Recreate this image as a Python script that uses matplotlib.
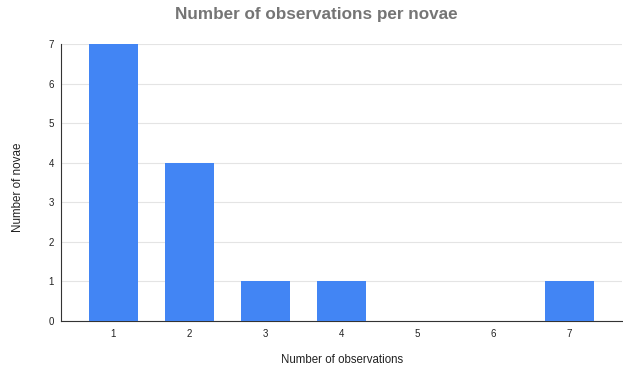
import matplotlib.pyplot as plt

observations = [1, 2, 3, 4, 5, 6, 7]
novae_count = [7, 4, 1, 1, 0, 0, 1]
y_ticks = [0, 1, 2, 3, 4, 5, 6, 7]

plt.rcParams['font.family'] = ['Liberation Sans', 'DejaVu Sans']

fig = plt.figure(figsize=(6.23, 3.68), dpi=100)
ax = fig.add_axes([61 / 623, 1 - 321 / 368, 561 / 623, 277 / 368])

ax.bar(observations, novae_count, width=0.64, color="#4285f4", zorder=3)

ax.set_xlim(0.31, 7.69)
ax.set_ylim(0, 7)
ax.set_xticks(observations)
ax.set_yticks(y_ticks)
ax.tick_params(axis='both', length=0, labelsize=7, colors="#222222")
ax.tick_params(axis='x', pad=6)
ax.tick_params(axis='y', pad=5)

ax.grid(axis='y', color="#e4e4e4", linewidth=0.8, zorder=0)
for side in ["top", "right"]:
    ax.spines[side].set_visible(False)
ax.spines["bottom"].set_color("#333333")
ax.spines["left"].set_color("#333333")
ax.spines["bottom"].set_linewidth(0.8)
ax.spines["left"].set_linewidth(0.8)

fig.text(316 / 623, 1 - 15 / 368, "Number of observations per novae", ha="center", va="center",
         fontsize=12.3, fontweight="bold", color="#757575")
fig.text(342 / 623, 1 - 360 / 368, "Number of observations", ha="center", va="center",
         fontsize=8.3, color="#222222")
fig.text(18 / 623, 1 - 187 / 368, "Number of novae", ha="center", va="center",
         rotation=90, fontsize=8.4, color="#222222")

fig.savefig("out.png", dpi=100)
